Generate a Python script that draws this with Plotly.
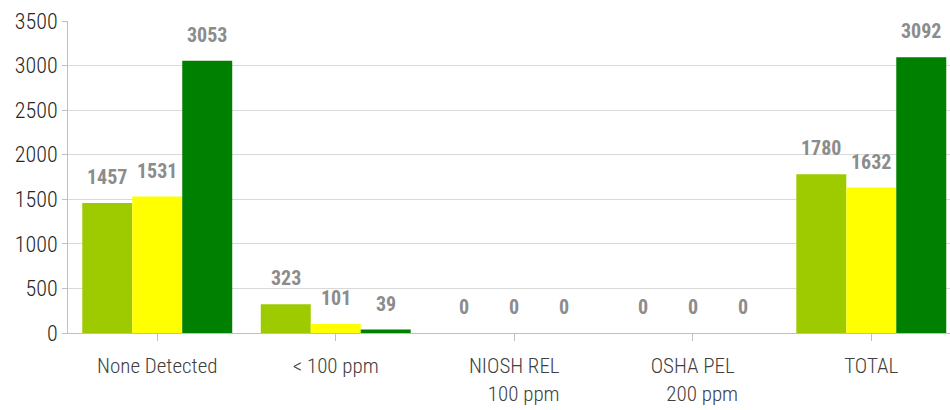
import plotly.graph_objects as go

# Sample counts per exposure band, three survey series
categories = ["None Detected", "&lt; 100 ppm", "NIOSH REL<br>\u00a0\u00a0\u00a0\u00a0100 ppm",
              "OSHA PEL<br>\u00a0\u00a0\u00a0\u00a0200 ppm", "TOTAL"]
series_a = [1457, 323, 0, 0, 1780]
series_b = [1531, 101, 0, 0, 1632]
series_c = [3053, 39, 0, 0, 3092]
y_ticks = [0, 500, 1000, 1500, 2000, 2500, 3000, 3500]

colors = ["#9ECB00", "#FFFF00", "#008000"]
FONT = "Roboto Condensed, Liberation Sans Narrow, Arial Narrow, sans-serif"

BARGAP = 0.16
bar_w = (1 - BARGAP) / 3
offsets = [-bar_w, 0.0, bar_w]

xpos = list(range(len(categories)))
fig = go.Figure()
for vals, col in zip([series_a, series_b, series_c], colors):
    fig.add_trace(go.Bar(x=xpos, y=vals, marker=dict(color=col, line=dict(width=0)),
                         showlegend=False))

# value labels floating above each bar
for vals, off in zip([series_a, series_b, series_c], offsets):
    for i, v in enumerate(vals):
        fig.add_annotation(x=i + off, y=v, text=str(v), showarrow=False,
                           yanchor="middle", yshift=26,
                           font=dict(family=FONT, size=20, color="#8C8C8C", weight="bold"))

fig.update_layout(
    width=950, height=410,
    margin=dict(l=68, r=0, t=21, b=77),
    paper_bgcolor="white", plot_bgcolor="white",
    barmode="group", bargap=BARGAP, bargroupgap=0,
    font=dict(family=FONT, color="#333333"),
)
fig.update_xaxes(
    tickmode="array", tickvals=xpos, ticktext=categories,
    range=[-0.5, 4.441], tickson="boundaries",
    ticks="outside", ticklen=7, tickcolor="#BFBFBF",
    showline=True, linecolor="#BFBFBF", linewidth=1,
    showgrid=False, zeroline=False, ticklabelstandoff=7,
    tickfont=dict(family=FONT, size=21, color="#404040", weight=300),
)
fig.update_yaxes(
    range=[0, 3500], tickmode="array", tickvals=y_ticks,
    ticks="outside", ticklen=5, tickcolor="#BFBFBF",
    showline=True, linecolor="#BFBFBF", linewidth=1,
    showgrid=True, gridcolor="#D9D9D9", gridwidth=1, zeroline=False,
    tickfont=dict(family=FONT, size=22, color="#262626", weight=300),
)

fig.write_html("out.html")
